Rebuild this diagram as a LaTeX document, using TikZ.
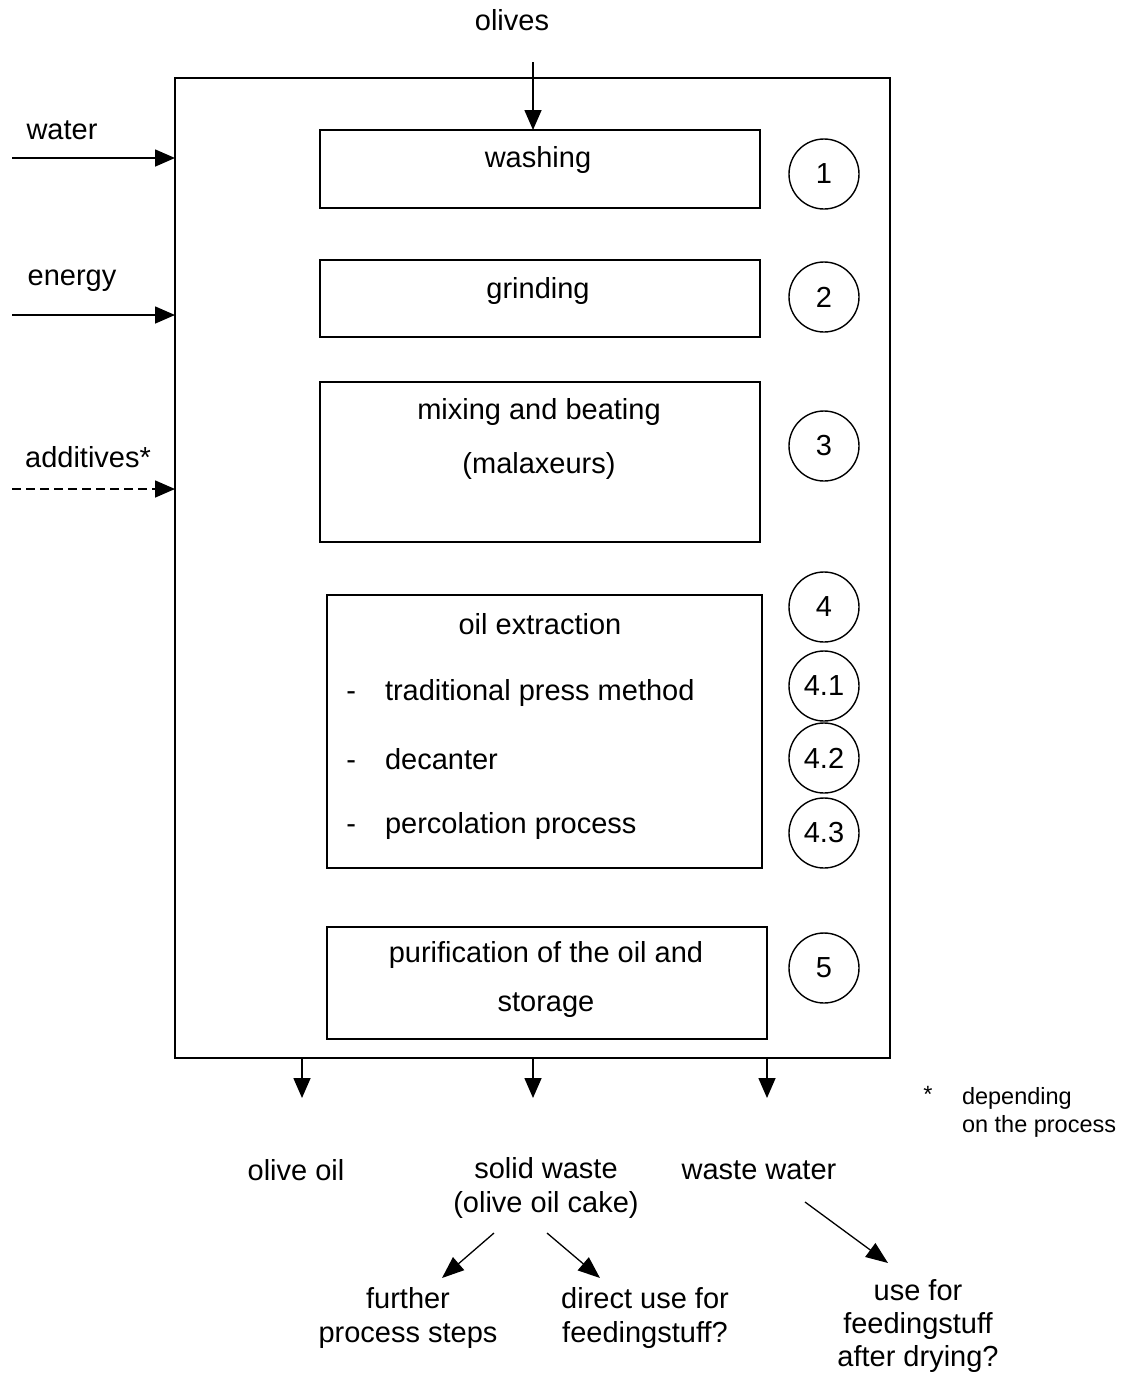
\documentclass[tikz,border=0pt]{standalone}
\usepackage{fontspec}
\setmainfont{Liberation Sans}
\usetikzlibrary{arrows.meta}
\begin{document}
\begin{tikzpicture}[x=1pt,y=-1pt,
  line width=1.6pt,
  every node/.style={inner sep=0pt, outer sep=0pt},
  txt/.style={font=\fontsize{29}{32}\selectfont, align=center},
  outtxt/.style={font=\fontsize{29}{34}\selectfont, align=center},
  small/.style={font=\fontsize{23.5}{28}\selectfont, align=left},
  stage/.style={draw, rectangle, line width=1.6pt},
  num/.style={draw, circle, minimum size=70pt, line width=1.4pt, font=\fontsize{29}{32}\selectfont},
  arr/.style={-{Triangle[length=20pt,width=17pt]}},
  thin arr/.style={line width=1.3pt,-{Triangle[length=22pt,width=17pt]}}
]
\useasboundingbox (0,0) rectangle (1138,1374);

% plant boundary
\node[stage, minimum width=715pt, minimum height=980pt] (frame) at (532.5,568) {};

% process stages
\node[stage, minimum width=440pt, minimum height=78pt] (wash) at (540,169) {};
\node[txt] (washT) at (538,160) {washing};
\node[stage, minimum width=440pt, minimum height=77pt] (grind) at (540,298.5) {};
\node[txt] (grindT) at (538,291) {grinding};
\node[stage, minimum width=440pt, minimum height=160pt] (mix) at (540,462) {};
\node[txt] (mixT1) at (539,412) {mixing and beating};
\node[txt] (mixT2) at (539,466) {(malaxeurs)};
\node[stage, minimum width=435pt, minimum height=273pt] (extr) at (544.5,731.5) {};
\node[txt] (extrT) at (540,624) {oil extraction};
\node[txt, anchor=west] (m1) at (385,693) {traditional press method};
\node[txt, anchor=west] (m2) at (385,759) {decanter};
\node[txt, anchor=west] (m3) at (385,826) {percolation process};
\node[txt, anchor=base east] (d1) at ([xshift=-29pt]m1.base west) {-};
\node[txt, anchor=base east] (d2) at ([xshift=-29pt]m2.base west) {-};
\node[txt, anchor=base east] (d3) at ([xshift=-29pt]m3.base west) {-};
\node[stage, minimum width=440pt, minimum height=112pt] (puri) at (547,983) {};
\node[txt] (puriT) at (546,979) {purification of the oil and\\[17pt]storage};

% stage numbers
\node[num] (n1) at (824,174) {1};
\node[num] (n2) at (824,297) {2};
\node[num] (n3) at (824,446) {3};
\node[num] (n4) at (824,607) {4};
\node[num] (n41) at (824,686) {4.1};
\node[num] (n42) at (824,758) {4.2};
\node[num] (n43) at (824,833) {4.3};
\node[num] (n5) at (824,968) {5};

% inputs
\node[txt] (olives) at (512,20) {olives};
\coordinate (olin) at (533,62);
\draw[arr] (olin) -- (olin |- wash.north);

\node[txt] (water) at (62,130) {water};
\coordinate (win) at (12,158);
\draw[arr] (win) -- (win -| frame.west);

\node[txt] (energy) at (72,281) {energy};
\coordinate (ein) at (12,315);
\draw[arr] (ein) -- (ein -| frame.west);

\node[txt] (addit) at (88,457) {additives*};
\coordinate (ain) at (12,489);
\draw[arr, dashed, dash pattern=on 9pt off 5pt] (ain) -- (ain -| frame.west);

% outputs
\coordinate (o1) at (302,1098);
\coordinate (o2) at (533,1098);
\coordinate (o3) at (767,1098);
\draw[arr] (o1 |- frame.south) -- (o1);
\draw[arr] (o2 |- frame.south) -- (o2);
\draw[arr] (o3 |- frame.south) -- (o3);

\node[outtxt] (oil) at (296,1170) {olive oil};
\node[outtxt, anchor=north] (solid) at (546,1157) {solid waste\\(olive oil cake)};
\node[outtxt] (wwater) at (759,1170) {waste water};

% further use of the residues
\coordinate (s1a) at (494,1233);
\coordinate (s1b) at (442,1278);
\coordinate (s2a) at (547,1233);
\coordinate (s2b) at (600,1278);
\coordinate (w1a) at (805,1202);
\coordinate (w1b) at (888,1263);
\draw[thin arr] (s1a) -- (s1b);
\draw[thin arr] (s2a) -- (s2b);
\draw[thin arr] (w1a) -- (w1b);

\node[outtxt, anchor=north] (further) at (408,1287) {further\\process steps};
\node[outtxt, anchor=north] (direct) at (645,1287) {direct use for\\feedingstuff?};
\node[txt, font=\fontsize{29}{33}\selectfont, anchor=north] (feed) at (918,1279) {use for\\feedingstuff\\after drying?};

% footnote
\node[small] (star) at (928,1094) {*};
\node[small, anchor=north west] (note) at (962,1087) {depending\\on the process};
\end{tikzpicture}
\end{document}
